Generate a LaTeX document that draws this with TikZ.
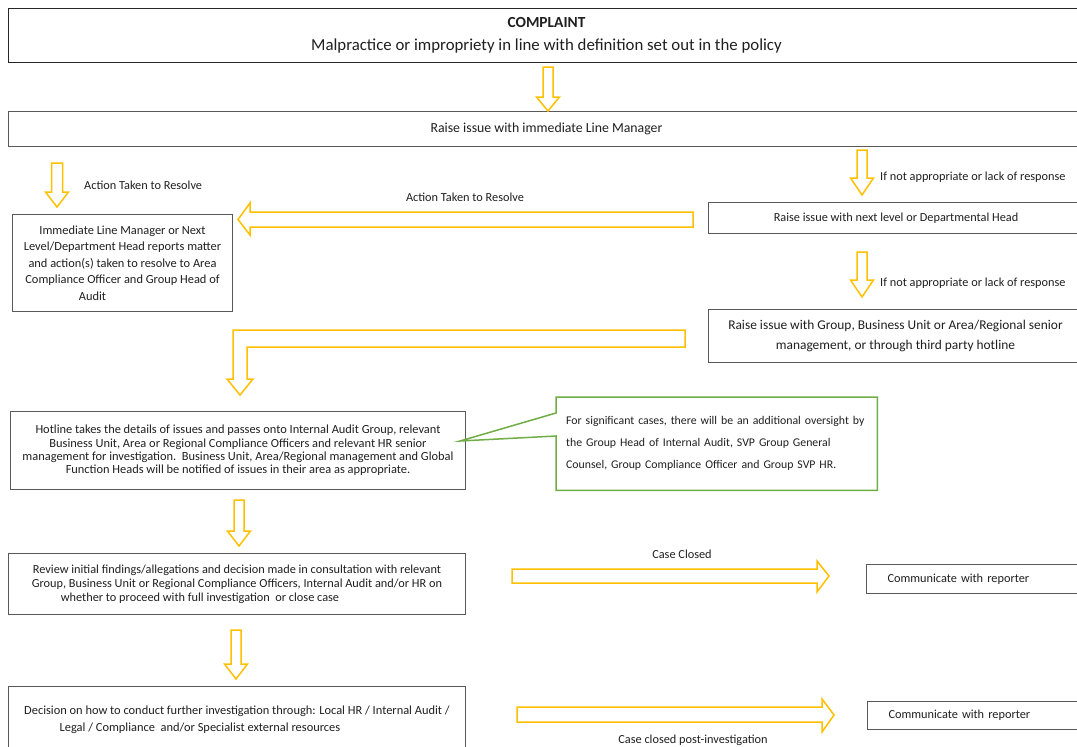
\documentclass[tikz,border=0pt]{standalone}
\usepackage{fontspec}
\setmainfont{Carlito}

\definecolor{arrowgold}{HTML}{FFC000}
\definecolor{boxgray}{HTML}{595959}
\definecolor{calloutgreen}{HTML}{70AD47}
\definecolor{textgray}{HTML}{1F1F1F}

\tikzset{
  flowbox/.style={draw=boxgray, line width=1pt, anchor=north west, inner sep=0pt, align=center, text=textgray},
  blockarrow/.style={draw=arrowgold, line width=1.5pt, line join=miter, fill=white},
  calloutline/.style={draw=calloutgreen, line width=1.5pt, line join=miter},
  steplabel/.style={inner sep=0pt, text=textgray, font=\fontsize{12.3}{14}\selectfont},
}

\begin{document}
\begin{tikzpicture}[x=1pt,y=1pt,yscale=-1,xscale=1]

    \useasboundingbox (0,0) rectangle (1077,747);
    \clip (0,0) rectangle (1077,747);

    %Box: complaint
    \node[flowbox, draw=black!85, minimum width=1076pt, minimum height=54pt, font=\fontsize{16.8}{23}\selectfont] (complaint) at (8,8) {{\fontsize{15.4}{23}\selectfont\textbf{COMPLAINT}}\\Malpractice or impropriety in line with definition set out in the policy};
    %Box: line manager
    \node[flowbox, minimum width=1076pt, minimum height=35pt, font=\fontsize{13.8}{16}\selectfont] (linemgr) at (8,111) {Raise issue with immediate Line Manager};
    %Box: report to compliance
    \node[flowbox, minimum width=220pt, minimum height=97pt, font=\fontsize{12.4}{16.5}\selectfont] (report) at (12,214) {Immediate Line Manager or Next\\Level/Department Head reports matter\\and action(s) taken to resolve to Area\\Compliance Officer and Group Head of\\Audit\hspace*{60pt}};
    %Box: next level
    \node[flowbox, minimum width=375pt, minimum height=31pt, font=\fontsize{12.3}{15}\selectfont] (nextlevel) at (708,202) {Raise issue with next level or Departmental Head};
    %Box: senior management
    \node[flowbox, minimum width=374pt, minimum height=53pt, font=\fontsize{13.4}{20}\selectfont] (senior) at (708,309) {Raise issue with Group, Business Unit or Area/Regional senior\\management, or through third party hotline};
    %Box: hotline
    \node[flowbox, minimum width=455pt, minimum height=78pt, font=\fontsize{12.4}{13.3}\selectfont] (hotline) at (10,411) {Hotline takes the details of issues and passes onto Internal Audit Group, relevant\\Business Unit, Area or Regional Compliance Officers and relevant HR senior\\management for investigation.\ \ Business Unit, Area/Regional management and Global\\Function Heads will be notified of issues in their area as appropriate.};
    %Callout: oversight
    \node[anchor=north west, minimum width=321pt, minimum height=93pt, inner xsep=10pt, inner ysep=0pt, text width=301pt, align=left, text=textgray, font=\fontsize{11.8}{22}\selectfont] (oversight) at (556,397) {For significant cases, there will be an additional oversight by\\the Group Head of Internal Audit, SVP Group General\\Counsel, Group Compliance Officer and Group SVP HR.};
    \coordinate (pointer) at (460,441);
    \draw[calloutline] (oversight.north west) -- (oversight.north east) -- (oversight.south east) -- (oversight.south west) -- (556,436) -- (pointer) -- (556,413) -- cycle;
    %Box: review
    \node[flowbox, minimum width=457pt, minimum height=61pt, font=\fontsize{12.3}{14}\selectfont] (review) at (8,553) {Review initial findings/allegations and decision made in consultation with relevant\\Group, Business Unit or Regional Compliance Officers, Internal Audit and/or HR on\\whether to proceed with full investigation\ \ or close case\hspace*{74pt}};
    %Box: decision
    \node[flowbox, minimum width=457pt, minimum height=66pt, font=\fontsize{12.4}{17}\selectfont] (decision) at (8,686) {Decision on how to conduct further investigation through: Local HR / Internal Audit /\\Legal / Compliance\ \ and/or Specialist external resources\hspace*{74pt}};
    %Box: communicate
    \node[flowbox, minimum height=29pt, inner xsep=21pt, text width=178pt, align=left, font=\fontsize{12.3}{15}\selectfont] (reporterA) at (866,564) {Communicate with reporter};
    \node[flowbox, minimum height=28pt, inner xsep=21pt, text width=178pt, align=left, font=\fontsize{12.3}{15}\selectfont] (reporterB) at (867,701) {Communicate with reporter};

    %Labels
    \node[steplabel, anchor=west] (resolveA) at (84,185) {Action Taken to Resolve};
    \node[steplabel] (resolveB) at (465,197) {Action Taken to Resolve};
    \node[steplabel, anchor=west] (escalateA) at (880,177) {If not appropriate or lack of response};
    \node[steplabel, anchor=west] (escalateB) at (880,283) {If not appropriate or lack of response};
    \node[steplabel] (closedA) at (682,554) {Case Closed};
    \node[steplabel] (closedB) at (693,740) {Case closed post-investigation};

    %Down Arrow: complaint to line manager
    \draw[blockarrow] (543,67) -- (553,67) -- (553,97) -- (559.5,97) -- (548,111) -- (536.5,97) -- (543,97) -- cycle;
    %Down Arrow: action taken
    \draw[blockarrow] (51.5,163) -- (62.5,163) -- (62.5,192) -- (68.5,192) -- (57,207) -- (45.5,192) -- (51.5,192) -- cycle;
    %Down Arrow: to next level
    \draw[blockarrow] (857,150) -- (867,150) -- (867,178) -- (873.5,178) -- (862,195) -- (850.5,178) -- (857,178) -- cycle;
    %Down Arrow: to senior management
    \draw[blockarrow] (857,252) -- (867,252) -- (867,280) -- (873.5,280) -- (862,297) -- (850.5,280) -- (857,280) -- cycle;
    %Down Arrow: hotline to review
    \draw[blockarrow] (234,500) -- (244,500) -- (244,531) -- (250.5,531) -- (239,546) -- (227.5,531) -- (234,531) -- cycle;
    %Down Arrow: review to decision
    \draw[blockarrow] (231,630) -- (241,630) -- (241,664) -- (247.5,664) -- (236,679) -- (224.5,664) -- (231,664) -- cycle;
    %Left Arrow: action taken to resolve
    \draw[blockarrow] (693,212) -- (250,212) -- (250,203) -- (238,219.5) -- (250,235) -- (250,227) -- (693,227) -- cycle;
    %Bent Arrow: senior management to hotline
    \draw[blockarrow] (685,330) -- (233,330) -- (233,379) -- (227,379) -- (240,395) -- (253,379) -- (247,379) -- (247,347) -- (685,347) -- cycle;
    %Right Arrow: case closed
    \draw[blockarrow] (512,569) -- (817,569) -- (817,561) -- (829,576) -- (817,592) -- (817,583) -- (512,583) -- cycle;
    %Right Arrow: case closed post-investigation
    \draw[blockarrow] (517,707) -- (822,707) -- (822,699) -- (834,715) -- (822,732) -- (822,722) -- (517,722) -- cycle;

\end{tikzpicture}
\end{document}
